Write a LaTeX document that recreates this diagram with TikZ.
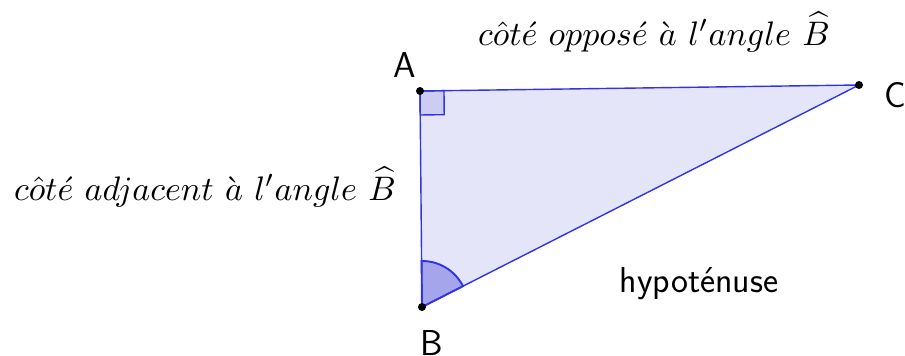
\documentclass[tikz,border=0pt]{standalone}
\usepackage{fontspec}
\usepackage{amsmath}
\usetikzlibrary{calc}
\definecolor{trifill}{RGB}{229,229,249}
\definecolor{triedge}{RGB}{50,50,230}
\definecolor{angfill}{RGB}{165,165,236}
\definecolor{sqfill}{RGB}{205,205,243}
\tikzset{
  pt/.style={circle,fill=black,inner sep=0pt,minimum size=8pt},
  lbl/.style={font=\fontsize{36}{38}\selectfont\sffamily,inner sep=0pt},
  mlbl/.style={font=\normalsize,inner sep=0pt},
  edge/.style={draw=triedge,line width=1.4pt}
}
\begin{document}
\begin{tikzpicture}[x=1pt,y=1pt]
\useasboundingbox (0,0) rectangle (905,356);
\coordinate (A) at (420,265);
\coordinate (B) at (422,49);
\coordinate (C) at (859,271);
\fill[trifill] (A) -- (B) -- (C) -- cycle;
\filldraw[fill=sqfill,edge] (A) -- ($(A)!24pt!(C)$) -- ($($(A)!24pt!(C)$)+($(A)!24pt!(B)$)-(A)$) -- ($(A)!24pt!(B)$) -- cycle;
\filldraw[fill=angfill,edge,line width=1.9pt] (B) -- ($(B)!46pt!(C)$) arc[start angle=26.9,end angle=90.5,radius=46pt] -- cycle;
\draw[edge] (A) -- (B) -- (C) -- cycle;
\node[pt] (pA) at (A) {};
\node[pt] (pB) at (B) {};
\node[pt] (pC) at (C) {};
\node[lbl] (tA) at (405,291) {A};
\node[lbl] (tB) at (432,13) {B};
\node[lbl] (tC) at (895,261) {C};
\node[lbl] (hyp) at (699,72) {hypoténuse};
\node[mlbl] (opp) at (654,324) {\scalebox{3.4}{$c\hat{o}t\acute{e}\ oppos\acute{e}\ \grave{a}\ l'angle\ \widehat{B}$}};
\node[mlbl] (adj) at (205,169) {\scalebox{3.4}{$c\hat{o}t\acute{e}\ adjacent\ \grave{a}\ l'angle\ \widehat{B}$}};
\end{tikzpicture}
\end{document}
